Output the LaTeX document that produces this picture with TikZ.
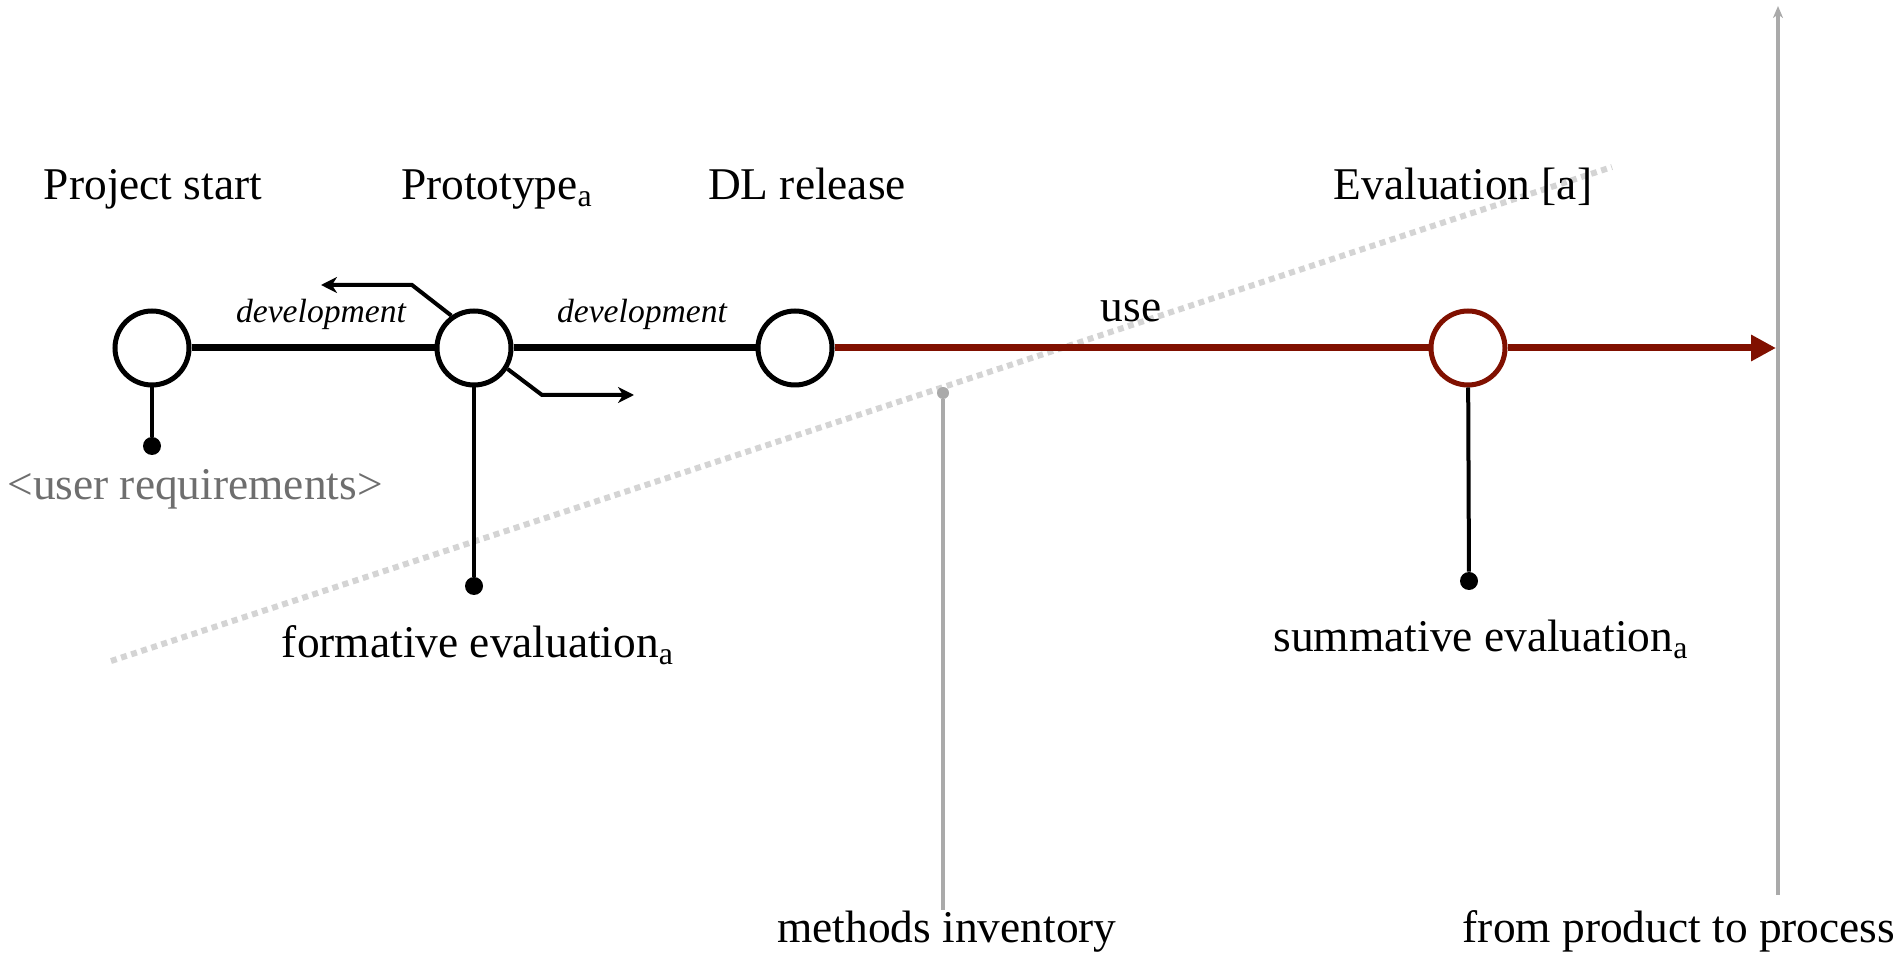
\documentclass[tikz,border=0pt]{standalone}
\usepackage{fontspec}
\setmainfont{Liberation Serif}
\usetikzlibrary{arrows.meta}
\definecolor{dred}{RGB}{128,16,0}
\definecolor{gline}{RGB}{170,170,170}
\definecolor{gdot}{RGB}{212,212,212}
\definecolor{gtext}{RGB}{110,110,110}
\begin{document}
\begin{tikzpicture}[x=0.5pt,y=-0.5pt,
  milestone/.style={circle,draw=black,line width=2.5pt,fill=white,minimum size=37pt,inner sep=0pt},
  redmilestone/.style={milestone,draw=dred},
  enddot/.style={circle,fill=black,minimum size=9pt,inner sep=0pt},
  graydot/.style={circle,fill=gline,minimum size=6pt,inner sep=0pt},
  lbl/.style={font=\fontsize{22.7}{27}\selectfont,anchor=base,inner sep=0pt},
  devlbl/.style={font=\fontsize{16.8}{20}\selectfont\itshape,anchor=base,inner sep=0pt},
  mainline/.style={line width=3.5pt},
  stem/.style={line width=2pt},
  branch/.style={line width=2pt,-{Stealth[length=8pt,width=8pt,inset=2.5pt]}},
  guide/.style={gline,line width=1.6pt},
  dotline/.style={gdot,line width=3pt,dash pattern=on 3pt off 2.3pt},
]
\useasboundingbox (0,0) rectangle (1901,956);

% dotted diagonal
\coordinate (dA) at (111,661);
\coordinate (dB) at (1612,167);
\draw[dotline] (dA) -- (dB);

% gray guides
\coordinate (gtop) at (1778,6);
\coordinate (gbot) at (1778,895);
\draw[guide,-{Stealth[length=6pt,width=5pt,inset=1.8pt]}] (gbot) -- (gtop);
\node[graydot] (dm) at (943,393) {};
\coordinate (mbot) at (943,910);
\draw[guide] (dm) -- (mbot);

% milestones
\node[milestone] (c1) at (152,348) {};
\node[milestone] (c2) at (474,348) {};
\node[milestone] (c3) at (795,348) {};
\node[redmilestone] (c4) at (1468,348) {};
\coordinate (aend) at (1776,348);

% main lines
\draw[mainline] (c1) -- (c2);
\draw[mainline] (c2) -- (c3);
\draw[mainline,dred] (c3) -- (c4);
\draw[mainline,dred,-{Triangle[length=12.5pt,width=12.5pt]}] (c4) -- (aend);

% stems
\node[enddot] (d1) at (152,446) {};
\node[enddot] (d2) at (474,586) {};
\node[enddot] (d4) at (1469,581) {};
\draw[stem] (c1) -- (d1);
\draw[stem] (c2) -- (d2);
\draw[stem] (c4) -- (d4);

% branch arrows at prototype
\coordinate (bu1) at (412,285);
\coordinate (bu2) at (321,285);
\coordinate (bl1) at (542,395);
\coordinate (bl2) at (634,395);
\draw[branch] (c2.125) -- (bu1) -- (bu2);
\draw[branch] (c2.-32) -- (bl1) -- (bl2);

% labels
\node[lbl] (lps) at (153,200) {Project start};
\node[lbl] (lpt) at (497,200) {Prototype\textsubscript{a}};
\node[lbl] (ldl) at (807,200) {DL release};
\node[lbl] (lev) at (1463,200) {Evaluation [a]};
\node[devlbl] (ld1) at (321,323) {development};
\node[devlbl] (ld2) at (642,323) {development};
\node[lbl] (luse) at (1131,322) {use};
\node[lbl,text=gtext] (lur) at (195,500) {<user requirements>};
\node[lbl] (lfe) at (478,658) {formative evaluation\textsubscript{a}};
\node[lbl] (lse) at (1481,652) {summative evaluation\textsubscript{a}};
\node[lbl] (lmi) at (947,942) {methods inventory};
\node[lbl] (lfp) at (1679,942) {from product to process};
\end{tikzpicture}
\end{document}
